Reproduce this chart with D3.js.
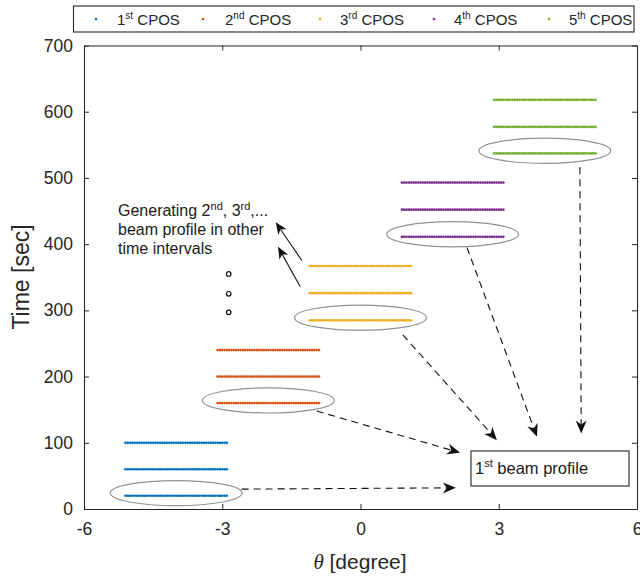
<!DOCTYPE html>
<html>
<head>
<meta charset="utf-8">
<script src="https://cdn.jsdelivr.net/npm/d3@7"></script>
<style>
  body { margin: 0; background: #fff; }
  svg { font-family: "Liberation Sans", Arial, Helvetica, sans-serif; }
</style>
</head>
<body>
<svg width="640" height="576"></svg>
<script>
// series data: beam centre angle of each CPOS and the times of its profiles
var seriesNames = ['1', '2', '3', '4', '5'];
var seriesSup = ['st', 'nd', 'rd', 'th', 'th'];
var seriesColors = ['#0072BD', '#D95319', '#EDB120', '#7E2F8E', '#77AC30'];
var centerAngles = [-4, -2, 0, 2, 4];
var cpos1Times = [20, 60, 100];
var cpos2Times = [160, 200, 240];
var cpos3Times = [285, 326, 367];
var cpos4Times = [411, 452, 493];
var cpos5Times = [537, 577, 618];
var allTimes = [cpos1Times, cpos2Times, cpos3Times, cpos4Times, cpos5Times];

// angle sample offsets around each centre (degree)
var angleOffsets = [-1.1, -1.05, -1.0, -0.95, -0.9, -0.85, -0.8, -0.75, -0.7, -0.65,
  -0.6, -0.55, -0.5, -0.45, -0.4, -0.35, -0.3, -0.25, -0.2, -0.15, -0.1, -0.05, 0,
  0.05, 0.1, 0.15, 0.2, 0.25, 0.3, 0.35, 0.4, 0.45, 0.5, 0.55, 0.6, 0.65, 0.7, 0.75,
  0.8, 0.85, 0.9, 0.95, 1.0, 1.05, 1.1];

// "..." continuation circles
var moreAngles = [-2.86, -2.86, -2.86];
var moreTimes = [297, 325, 355];

var xTicks = [-6, -3, 0, 3, 6];
var yTicks = [0, 100, 200, 300, 400, 500, 600, 700];

// dashed arrows from each first-profile ellipse to the box: [x1, t1, x2, t2]
var dashArrows = [
  [-2.58, 30, 2.07, 32],
  [-0.95, 148, 2.16, 85],
  [0.92, 263, 2.96, 104],
  [2.31, 395, 3.83, 109],
  [4.76, 516, 4.79, 114]
];
// solid arrows towards the note
var noteArrows = [
  [-1.27, 375, -1.84, 433],
  [-1.31, 336, -1.79, 396]
];

var svg = d3.select('svg');
var x = d3.scaleLinear().domain([-6, 6]).range([84, 637]);
var y = d3.scaleLinear().domain([0, 700]).range([509, 45.5]);
var axisColor = '#262626';
var plain = function(d){ return String(d); };

// ellipses around each first profile
var ell = svg.append('g');
centerAngles.forEach(function(c, i){
  var t0 = allTimes[i][0] + 4;
  ell.append('ellipse')
    .attr('cx', x(c)).attr('cy', y(t0))
    .attr('rx', x(c + 1.43) - x(c)).attr('ry', y(0) - y(19))
    .attr('fill', 'none').attr('stroke', '#8c949a').attr('stroke-width', 1.2);
});

// dotted profiles
var dots = svg.append('g');
centerAngles.forEach(function(c, i){
  allTimes[i].forEach(function(t){
    dots.selectAll(null)
      .data(angleOffsets)
      .enter()
      .append('circle')
        .attr('cx', function(d){ return x(c + d); })
        .attr('cy', y(t))
        .attr('r', 1.35)
        .attr('fill', seriesColors[i]);
  });
});

svg.append('g').selectAll('circle')
  .data(moreTimes)
  .enter()
  .append('circle')
    .attr('cx', function(d, i){ return x(moreAngles[i]); })
    .attr('cy', function(d){ return y(d); })
    .attr('r', 2.3)
    .attr('fill', '#fff').attr('stroke', '#111').attr('stroke-width', 1.2);

// axes with inward ticks, box on
var axes = svg.append('g');
axes.append('g').attr('transform', 'translate(0,509)')
  .call(d3.axisBottom(x).tickValues(xTicks).tickFormat(plain).tickSizeInner(-5).tickSizeOuter(0).tickPadding(14));
axes.append('g').attr('transform', 'translate(0,45.5)')
  .call(d3.axisTop(x).tickValues(xTicks).tickSizeInner(-5).tickSizeOuter(0).tickFormat(''));
axes.append('g').attr('transform', 'translate(84,0)')
  .call(d3.axisLeft(y).tickValues(yTicks).tickFormat(plain).tickSizeInner(-5).tickSizeOuter(0).tickPadding(11));
axes.append('g').attr('transform', 'translate(637,0)')
  .call(d3.axisRight(y).tickValues(yTicks).tickSizeInner(-5).tickSizeOuter(0).tickFormat(''));
axes.selectAll('path.domain').attr('stroke', axisColor).attr('stroke-width', 1.1);
axes.selectAll('.tick line').attr('stroke', axisColor);
axes.selectAll('.tick text').attr('fill', axisColor).style('font-size', '17.5px')
  .style('font-family', '"Liberation Sans", Arial, sans-serif');

// axis labels
svg.append('text')
  .attr('transform', 'translate(29,277) rotate(-90)')
  .attr('text-anchor', 'middle')
  .style('font-size', '23px').attr('fill', axisColor)
  .text('Time [sec]');
var xl = svg.append('text')
  .attr('x', 360).attr('y', 569)
  .attr('text-anchor', 'middle')
  .style('font-size', '21px').attr('fill', axisColor);
xl.append('tspan').style('font-style', 'italic').style('font-family', '"Liberation Serif", serif').text('θ');
xl.append('tspan').text(' [degree]');

// arrow helper
function arrowHead(g, x1, y1, x2, y2, len, half){
  var a = Math.atan2(y2 - y1, x2 - x1);
  var ca = Math.cos(a), sa = Math.sin(a);
  function p(u, v){ return [x2 - u * ca - v * sa, y2 - u * sa + v * ca]; }
  var pts = [p(0, 0), p(len, half), p(len * 0.7, 0), p(len, -half)];
  g.append('path')
    .attr('d', 'M' + pts.map(function(q){ return q[0] + ',' + q[1]; }).join('L') + 'Z')
    .attr('fill', '#111');
  return [x2 - len * 0.7 * ca, y2 - len * 0.7 * sa];
}

var arr = svg.append('g');
dashArrows.forEach(function(d){
  var x1 = x(d[0]), y1 = y(d[1]), x2 = x(d[2]), y2 = y(d[3]);
  var b = arrowHead(arr, x1, y1, x2, y2, 13, 5.5);
  arr.append('line')
    .attr('x1', x1).attr('y1', y1).attr('x2', b[0]).attr('y2', b[1])
    .attr('stroke', '#111').attr('stroke-width', 1.1)
    .attr('stroke-dasharray', '7,5');
});
noteArrows.forEach(function(d){
  var x1 = x(d[0]), y1 = y(d[1]), x2 = x(d[2]), y2 = y(d[3]);
  var b = arrowHead(arr, x1, y1, x2, y2, 12, 5);
  arr.append('line')
    .attr('x1', x1).attr('y1', y1).attr('x2', b[0]).attr('y2', b[1])
    .attr('stroke', '#111').attr('stroke-width', 1.1);
});

// note text
var note = svg.append('g').style('font-size', '16px').attr('fill', '#1a1a1a');
var n1 = note.append('text').attr('x', 118).attr('y', 216);
n1.append('tspan').text('Generating 2');
n1.append('tspan').attr('dy', -6).style('font-size', '11px').text('nd');
n1.append('tspan').attr('dy', 6).text(', 3');
n1.append('tspan').attr('dy', -6).style('font-size', '11px').text('rd');
n1.append('tspan').attr('dy', 6).text(',...');
note.append('text').attr('x', 118).attr('y', 235).text('beam profile in other');
note.append('text').attr('x', 118).attr('y', 254).text('time intervals');

// box with first beam profile
svg.append('rect')
  .attr('x', 471).attr('y', 451).attr('width', 158).attr('height', 35)
  .attr('fill', '#fff').attr('stroke', '#444').attr('stroke-width', 1.3);
var bt = svg.append('text').attr('x', 475).attr('y', 474)
  .style('font-size', '16.5px').attr('fill', '#1a1a1a');
bt.append('tspan').text('1');
bt.append('tspan').attr('dy', -7).style('font-size', '11px').text('st');
bt.append('tspan').attr('dy', 7).text(' beam profile');

// legend
var legendDotX = [96, 203, 320, 434, 549];
var legendTextX = [117, 225, 340, 454, 569];
var lg = svg.append('g');
lg.append('rect')
  .attr('x', 73.5).attr('y', 6).attr('width', 560.5).attr('height', 26)
  .attr('fill', '#fff').attr('stroke', '#262626').attr('stroke-width', 1.1);
seriesNames.forEach(function(s, i){
  lg.append('circle').attr('cx', legendDotX[i]).attr('cy', 19).attr('r', 1.3)
    .attr('fill', seriesColors[i]);
  var t = lg.append('text').attr('x', legendTextX[i]).attr('y', 24.5)
    .style('font-size', '15px').attr('fill', axisColor);
  t.append('tspan').text(s);
  t.append('tspan').attr('dy', -6).style('font-size', '10px').text(seriesSup[i]);
  t.append('tspan').attr('dy', 6).text(' CPOS');
});
</script>
</body>
</html>
